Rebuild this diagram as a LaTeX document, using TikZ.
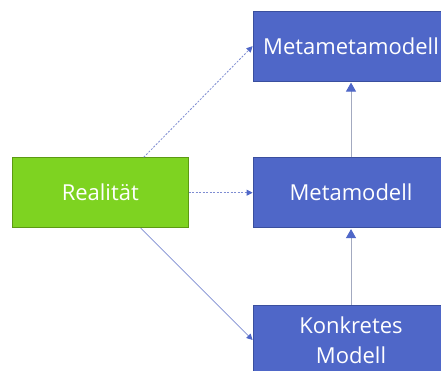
\documentclass[tikz,border=0pt]{standalone}
\usepackage{fontspec}
\setmainfont{Open Sans}
\usetikzlibrary{arrows.meta,calc}
\definecolor{boxblue}{HTML}{4F67C8}
\definecolor{boxblueline}{HTML}{3A4F9E}
\definecolor{boxgreen}{HTML}{7ED321}
\definecolor{boxgreenline}{HTML}{5C9A12}
\definecolor{linkgray}{HTML}{A3AAC0}
\definecolor{linkblue}{HTML}{7E8DD2}
\begin{document}
\begin{tikzpicture}[x=1pt,y=-1pt,
  block/.style={draw=boxblueline,fill=boxblue,line width=0.8pt,text=white,
    font=\fontsize{22}{30}\selectfont,align=center,inner sep=0pt,
    minimum width=196pt,minimum height=70pt},
  realbox/.style={block,draw=boxgreenline,fill=boxgreen,minimum width=176pt},
  instanceof/.style={draw=linkgray,line width=0.9pt,
    -{Triangle[width=10pt,length=9pt,fill=boxblue,color=boxblue]},shorten >=1pt},
  represents/.style={draw=linkblue,line width=0.8pt,dash pattern=on 2pt off 1.5pt,
    -{Triangle[width=6pt,length=6pt,fill=boxblue,color=boxblue]}},
  models/.style={draw=linkblue,line width=0.8pt,
    -{Triangle[width=6pt,length=6pt,fill=boxblue,color=boxblue]}}]
  \clip (0,0) rectangle (441,371);
  \fill[white] (0,0) rectangle (441,371);
  % model layers
  \node[block] (mm2) at (351,46.2) {Metametamodell};
  \node[block] (mm1) at (351,192.7) {Metamodell};
  \node[block] (mod) at (351,340) {Konkretes\\Modell};
  % the modelled reality
  \node[realbox] (real) at (100.3,192.7) {Realität};
  % instance-of relations
  \draw[instanceof] (mod.north) -- (mm1.south);
  \draw[instanceof] (mm1.north) -- (mm2.south);
  % relations from reality
  \coordinate (realtop) at ([xshift=-45pt]real.north east);
  \coordinate (realbot) at ([xshift=-48pt]real.south east);
  \draw[represents] (realtop) -- (mm2.west);
  \draw[represents] (real.east) -- (mm1.west);
  \draw[models] (realbot) -- (mod.west);
\end{tikzpicture}
\end{document}
